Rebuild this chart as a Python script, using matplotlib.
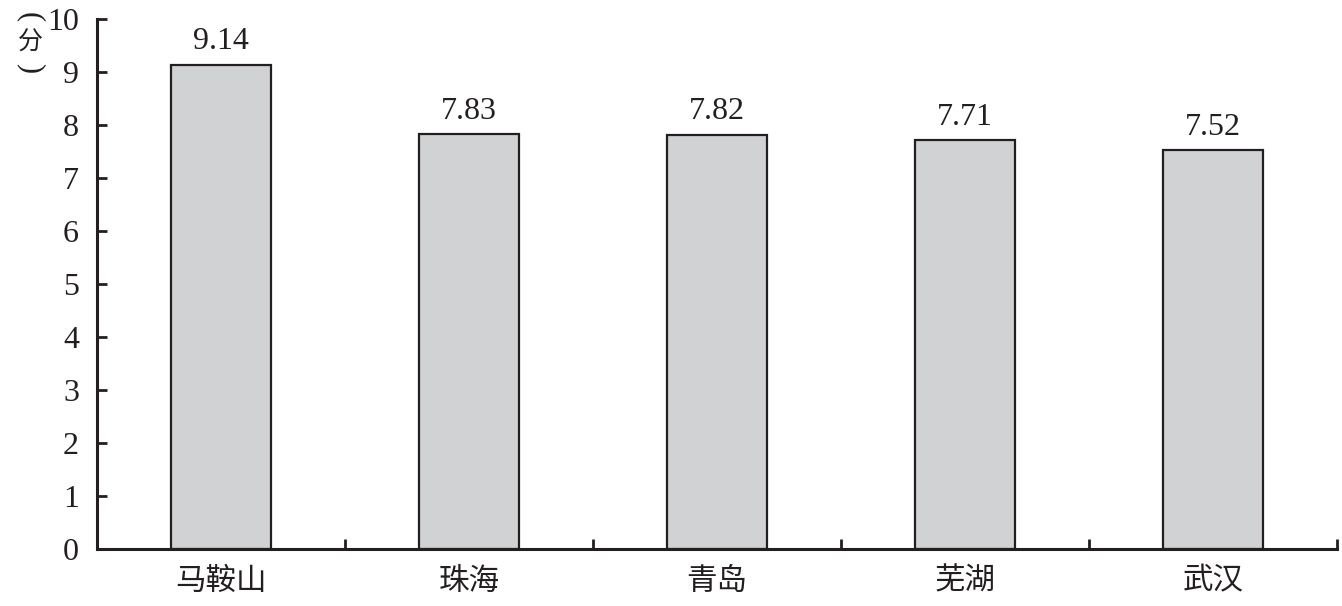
import matplotlib.pyplot as plt
import numpy as np

cities = ["马鞍山", "珠海", "青岛", "芜湖", "武汉"]
scores = [9.14, 7.83, 7.82, 7.71, 7.52]
score_labels = ["9.14", "7.83", "7.82", "7.71", "7.52"]
yticks = list(range(0, 11))

num_font = ["Liberation Serif", "Noto Sans CJK SC"]
cjk_font = ["Noto Sans CJK SC", "DejaVu Sans"]
ink = "#231f20"

fig = plt.figure(figsize=(13.42, 6.06), dpi=100)
ax = fig.add_axes([0.0723, 0.094, 0.9240, 0.8746])

x = np.arange(len(cities))
ax.bar(x, scores, width=0.4, color="#d1d2d4", edgecolor=ink, linewidth=1.6)

for xi, v, lab in zip(x, scores, score_labels):
    ax.annotate(lab, (xi, v), xytext=(0, 6), textcoords="offset points",
                ha="center", va="bottom", fontsize=23, family=num_font, color=ink)

ax.set_xlim(-0.5, len(cities) - 0.5)
ax.set_ylim(0, 10)
ax.set_yticks(yticks)
ax.set_yticklabels([str(t) for t in yticks], family=num_font, fontsize=23, color=ink)
ax.tick_params(axis="y", direction="in", length=7, width=2, pad=13, color=ink)

ax.set_xticks(x)
ax.set_xticklabels(cities, family=cjk_font, fontsize=22, color=ink)
ax.tick_params(axis="x", which="major", length=0, pad=12)
ax.set_xticks(np.arange(0.5, len(cities)), minor=True)
ax.tick_params(axis="x", which="minor", direction="in", length=7, width=2, color=ink)

for s in ["top", "right"]:
    ax.spines[s].set_visible(False)
for s in ["left", "bottom"]:
    ax.spines[s].set_linewidth(2.2)
    ax.spines[s].set_color(ink)

# vertical unit label: （分）
fig.text(0.0225, 1 - 17 / 606, "(", family=num_font, fontsize=22, rotation=-90,
         ha="center", va="center", color=ink)
fig.text(0.0225, 1 - 43 / 606, "分", family=cjk_font, fontsize=18,
         ha="center", va="center", color=ink)
fig.text(0.0225, 1 - 68 / 606, ")", family=num_font, fontsize=22, rotation=-90,
         ha="center", va="center", color=ink)

fig.savefig("out.png", dpi=100)
